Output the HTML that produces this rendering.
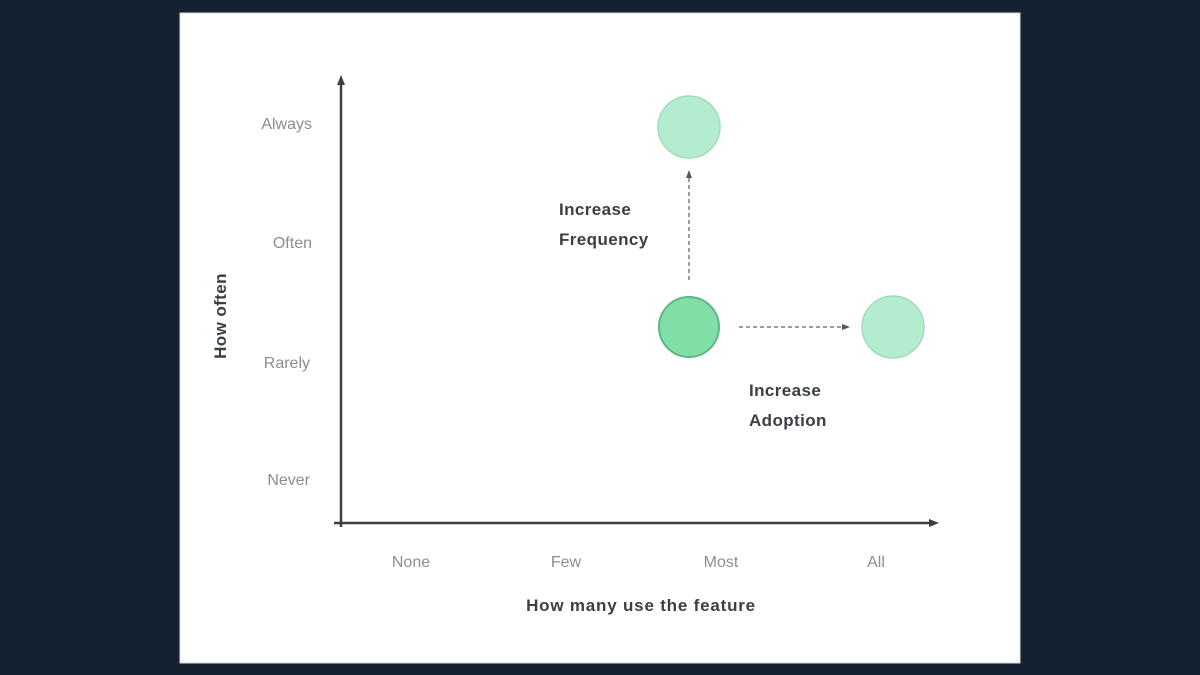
<!DOCTYPE html>
<html><head><style>
html,body{margin:0;padding:0;background:#15212f;}
body{width:1200px;height:675px;overflow:hidden;position:relative;font-family:"Liberation Sans",sans-serif;}
</style></head><body>
<svg width="1200" height="675" style="position:absolute;left:0;top:0">
<rect x="0" y="0" width="1200" height="675" fill="#142130"/>
<rect x="180" y="13" width="840" height="650" fill="#ffffff" stroke="#d8dadd" stroke-width="1"/>
<defs>
<marker id="a" markerWidth="10" markerHeight="10" refX="5" refY="5" orient="auto" markerUnits="userSpaceOnUse"><path d="M0,1 L10,5 L0,9 z" fill="#3a3f45"/></marker>
<marker id="b" markerWidth="8" markerHeight="8" refX="4" refY="4" orient="auto" markerUnits="userSpaceOnUse"><path d="M0,1 L8,4 L0,7 z" fill="#555"/></marker>
</defs>
<line x1="341" y1="527" x2="341" y2="80" stroke="#3a3f45" stroke-width="2.5" marker-end="url(#a)"/>
<line x1="334" y1="523" x2="934" y2="523" stroke="#3a3f45" stroke-width="2.5" marker-end="url(#a)"/>
<line x1="689" y1="280" x2="689" y2="174" stroke="#666" stroke-width="1.3" stroke-dasharray="4,3" marker-end="url(#b)"/>
<line x1="739" y1="327" x2="846" y2="327" stroke="#666" stroke-width="1.3" stroke-dasharray="4,3" marker-end="url(#b)"/>
<circle cx="689" cy="127" r="31" fill="#b3ecce" stroke="#a1dcbc" stroke-width="1.5"/>
<circle cx="689" cy="327" r="30" fill="#80dfa6" stroke="#5cb886" stroke-width="2"/>
<circle cx="893" cy="327" r="31" fill="#b3ecce" stroke="#a1dcbc" stroke-width="1.5"/>
<g fill="#8a8e93" font-size="16" text-anchor="end">
<text x="312" y="129">Always</text>
<text x="312" y="248">Often</text>
<text x="310" y="368">Rarely</text>
<text x="310" y="485">Never</text>
</g>
<g fill="#8a8e93" font-size="16" text-anchor="middle">
<text x="411" y="567">None</text>
<text x="566" y="567">Few</text>
<text x="721" y="567">Most</text>
<text x="876" y="567">All</text>
</g>
<g fill="#3a3f45" font-size="17" font-weight="bold" letter-spacing="0.4">
<text x="559" y="215">Increase</text>
<text x="559" y="245">Frequency</text>
<text x="749" y="396">Increase</text>
<text x="749" y="426">Adoption</text>
<text x="641" y="611" text-anchor="middle" letter-spacing="0.8">How many use the feature</text>
<text transform="translate(226,316) rotate(-90)" text-anchor="middle">How often</text>
</g>
</svg>
</body></html>
